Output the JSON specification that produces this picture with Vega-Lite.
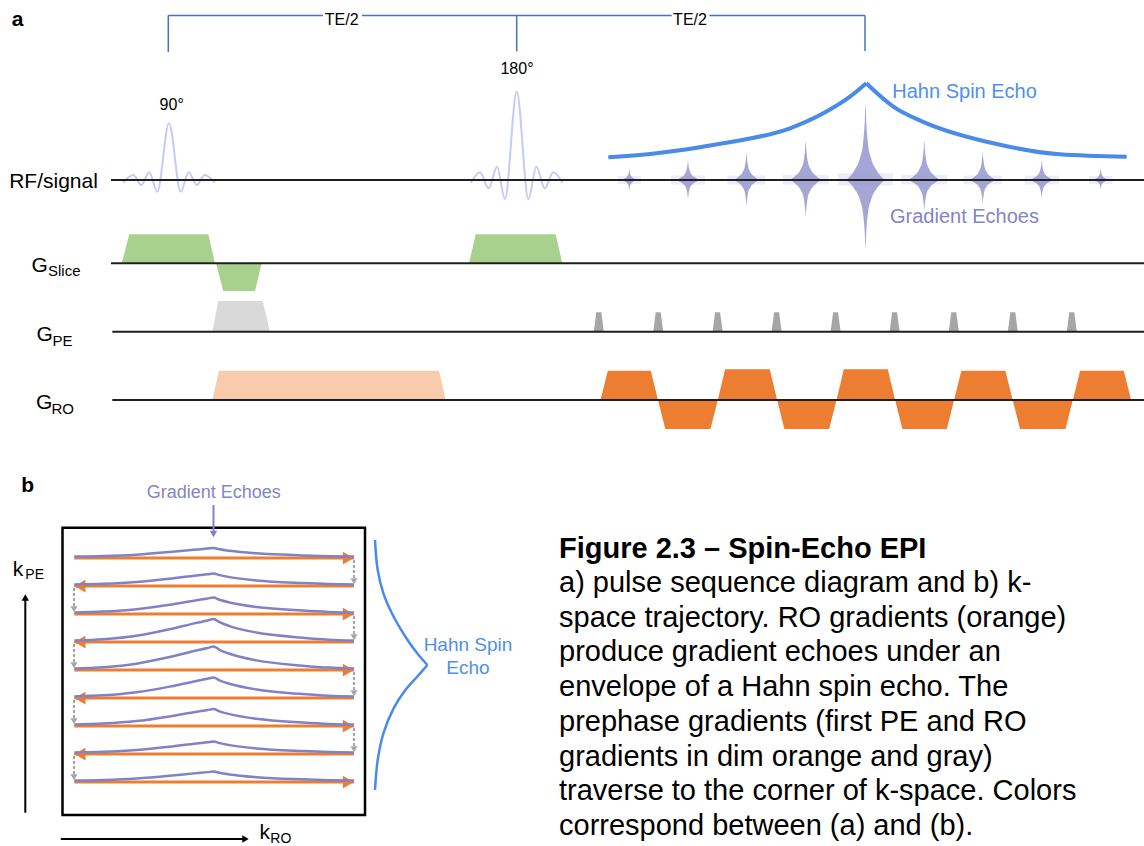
{
  "$schema": "https://vega.github.io/schema/vega-lite/v6.json",
  "width": 1144,
  "height": 846,
  "autosize": "none",
  "padding": 0,
  "background": "white",
  "config": {"view": {"stroke": null}, "text": {"font": "Liberation Sans", "baseline": "middle"}},
  "encoding": {
    "x": {"field": "x", "type": "quantitative", "scale": {"domain": [0, 1144], "nice": false, "zero": false}, "axis": null},
    "y": {"field": "y", "type": "quantitative", "scale": {"domain": [0, 846], "nice": false, "zero": false, "reverse": true}, "axis": null}
  },
  "datasets": {
    "haze": [
      {"x": 617.8, "x2": 640.8, "y": 176, "y2": 184},
      {"x": 670.8, "x2": 705.3, "y": 175.5, "y2": 184.5},
      {"x": 727.5, "x2": 765.5, "y": 175.5, "y2": 184.5},
      {"x": 782.7, "x2": 828.7, "y": 175, "y2": 184.5},
      {"x": 838, "x2": 893, "y": 173, "y2": 185.5},
      {"x": 901.3, "x2": 947.3, "y": 175, "y2": 184.5},
      {"x": 963.7, "x2": 1001.7, "y": 175.5, "y2": 184.5},
      {"x": 1024.5, "x2": 1058.9, "y": 175.5, "y2": 184.5},
      {"x": 1089.2, "x2": 1112.2, "y": 176, "y2": 184}
    ],
    "slice": [
      {"id": "s1", "x": 121.7, "y": 263.3, "y2": 263.3}, {"id": "s1", "x": 129.3, "y": 234.3, "y2": 263.3}, {"id": "s1", "x": 208.3, "y": 234.3, "y2": 263.3}, {"id": "s1", "x": 215, "y": 263.3, "y2": 263.3},
      {"id": "s2", "x": 216, "y": 263.3, "y2": 263.3}, {"id": "s2", "x": 223.3, "y": 263.3, "y2": 291}, {"id": "s2", "x": 255, "y": 263.3, "y2": 291}, {"id": "s2", "x": 261.7, "y": 263.3, "y2": 263.3},
      {"id": "s3", "x": 469, "y": 263.3, "y2": 263.3}, {"id": "s3", "x": 475.7, "y": 234.3, "y2": 263.3}, {"id": "s3", "x": 555.7, "y": 234.3, "y2": 263.3}, {"id": "s3", "x": 562.3, "y": 263.3, "y2": 263.3}
    ],
    "pePrephase": [
      {"id": "p", "x": 212.3, "y": 331.7, "y2": 331.7}, {"id": "p", "x": 218.3, "y": 301, "y2": 331.7}, {"id": "p", "x": 262.7, "y": 301, "y2": 331.7}, {"id": "p", "x": 270, "y": 331.7, "y2": 331.7}
    ],
    "roPrephase": [
      {"id": "r", "x": 212.3, "y": 400, "y2": 400}, {"id": "r", "x": 219, "y": 370.7, "y2": 400}, {"id": "r", "x": 439, "y": 370.7, "y2": 400}, {"id": "r", "x": 445.7, "y": 400, "y2": 400}
    ],
    "roLobes": [
      {"id": 1, "x": 600.5, "y": 400, "y2": 400}, {"id": 1, "x": 607.8, "y": 370.7, "y2": 400}, {"id": 1, "x": 650.8, "y": 370.7, "y2": 400}, {"id": 1, "x": 658, "y": 400, "y2": 400},
      {"id": 2, "x": 658, "y": 400, "y2": 400}, {"id": 2, "x": 665.3, "y": 400, "y2": 429}, {"id": 2, "x": 710.5, "y": 400, "y2": 429}, {"id": 2, "x": 717.8, "y": 400, "y2": 400},
      {"id": 3, "x": 717.8, "y": 400, "y2": 400}, {"id": 3, "x": 725.1, "y": 369.3, "y2": 400}, {"id": 3, "x": 769.8, "y": 369.3, "y2": 400}, {"id": 3, "x": 777.1, "y": 400, "y2": 400},
      {"id": 4, "x": 777.1, "y": 400, "y2": 400}, {"id": 4, "x": 784.4, "y": 400, "y2": 429}, {"id": 4, "x": 829.2, "y": 400, "y2": 429}, {"id": 4, "x": 836.5, "y": 400, "y2": 400},
      {"id": 5, "x": 836.5, "y": 400, "y2": 400}, {"id": 5, "x": 843.8, "y": 369.3, "y2": 400}, {"id": 5, "x": 887.8, "y": 369.3, "y2": 400}, {"id": 5, "x": 895.1, "y": 400, "y2": 400},
      {"id": 6, "x": 895.1, "y": 400, "y2": 400}, {"id": 6, "x": 902.4, "y": 400, "y2": 429}, {"id": 6, "x": 946.8, "y": 400, "y2": 429}, {"id": 6, "x": 954.1, "y": 400, "y2": 400},
      {"id": 7, "x": 954.1, "y": 400, "y2": 400}, {"id": 7, "x": 961.4, "y": 370.7, "y2": 400}, {"id": 7, "x": 1005.4, "y": 370.7, "y2": 400}, {"id": 7, "x": 1012.7, "y": 400, "y2": 400},
      {"id": 8, "x": 1012.7, "y": 400, "y2": 400}, {"id": 8, "x": 1020, "y": 400, "y2": 429}, {"id": 8, "x": 1065.5, "y": 400, "y2": 429}, {"id": 8, "x": 1072.8, "y": 400, "y2": 400},
      {"id": 9, "x": 1072.8, "y": 400, "y2": 400}, {"id": 9, "x": 1080.1, "y": 370.7, "y2": 400}, {"id": 9, "x": 1123.8, "y": 370.7, "y2": 400}, {"id": 9, "x": 1131.1, "y": 400, "y2": 400}
    ],
    "peBlips": [
      {"id": 1, "x": 593.8, "y": 331.7, "y2": 331.7}, {"id": 1, "x": 596.3, "y": 312.3, "y2": 331.7}, {"id": 1, "x": 601.3, "y": 312.3, "y2": 331.7}, {"id": 1, "x": 603.8, "y": 331.7, "y2": 331.7},
      {"id": 2, "x": 653.2, "y": 331.7, "y2": 331.7}, {"id": 2, "x": 655.7, "y": 312.3, "y2": 331.7}, {"id": 2, "x": 660.7, "y": 312.3, "y2": 331.7}, {"id": 2, "x": 663.2, "y": 331.7, "y2": 331.7},
      {"id": 3, "x": 712.6, "y": 331.7, "y2": 331.7}, {"id": 3, "x": 715.1, "y": 312.3, "y2": 331.7}, {"id": 3, "x": 720.1, "y": 312.3, "y2": 331.7}, {"id": 3, "x": 722.6, "y": 331.7, "y2": 331.7},
      {"id": 4, "x": 771.6, "y": 331.7, "y2": 331.7}, {"id": 4, "x": 774.1, "y": 312.3, "y2": 331.7}, {"id": 4, "x": 779.1, "y": 312.3, "y2": 331.7}, {"id": 4, "x": 781.6, "y": 331.7, "y2": 331.7},
      {"id": 5, "x": 830.6, "y": 331.7, "y2": 331.7}, {"id": 5, "x": 833.1, "y": 312.3, "y2": 331.7}, {"id": 5, "x": 838.1, "y": 312.3, "y2": 331.7}, {"id": 5, "x": 840.6, "y": 331.7, "y2": 331.7},
      {"id": 6, "x": 889.6, "y": 331.7, "y2": 331.7}, {"id": 6, "x": 892.1, "y": 312.3, "y2": 331.7}, {"id": 6, "x": 897.1, "y": 312.3, "y2": 331.7}, {"id": 6, "x": 899.6, "y": 331.7, "y2": 331.7},
      {"id": 7, "x": 948.8, "y": 331.7, "y2": 331.7}, {"id": 7, "x": 951.3, "y": 312.3, "y2": 331.7}, {"id": 7, "x": 956.3, "y": 312.3, "y2": 331.7}, {"id": 7, "x": 958.8, "y": 331.7, "y2": 331.7},
      {"id": 8, "x": 1007.8, "y": 331.7, "y2": 331.7}, {"id": 8, "x": 1010.3, "y": 312.3, "y2": 331.7}, {"id": 8, "x": 1015.3, "y": 312.3, "y2": 331.7}, {"id": 8, "x": 1017.8, "y": 331.7, "y2": 331.7},
      {"id": 9, "x": 1066.8, "y": 331.7, "y2": 331.7}, {"id": 9, "x": 1069.3, "y": 312.3, "y2": 331.7}, {"id": 9, "x": 1074.3, "y": 312.3, "y2": 331.7}, {"id": 9, "x": 1076.8, "y": 331.7, "y2": 331.7}
    ],
    "baselines": [
      {"x": 111, "x2": 1144, "y": 180, "y2": 180},
      {"x": 111, "x2": 1144, "y": 263.3, "y2": 263.3},
      {"x": 112.3, "x2": 1144, "y": 331.7, "y2": 331.7},
      {"x": 112.3, "x2": 1144, "y": 400, "y2": 400}
    ],
    "teBracket": [
      {"x": 168.3, "x2": 323, "y": 15.5, "y2": 15.5},
      {"x": 362, "x2": 671.7, "y": 15.5, "y2": 15.5},
      {"x": 709.3, "x2": 865, "y": 15.5, "y2": 15.5},
      {"x": 168.3, "x2": 168.3, "y": 15.5, "y2": 52},
      {"x": 516.7, "x2": 516.7, "y": 15.5, "y2": 51.5},
      {"x": 865, "x2": 865, "y": 15.5, "y2": 51}
    ],
    "rfPulses": [
      {"id": "p90", "x": 123, "y": 182.5}, {"id": "p90", "x": 133.3, "y": 175}, {"id": "p90", "x": 141.3, "y": 185}, {"id": "p90", "x": 149.3, "y": 172.3}, {"id": "p90", "x": 157.3, "y": 191.7}, {"id": "p90", "x": 169, "y": 123.3}, {"id": "p90", "x": 180.7, "y": 191.7}, {"id": "p90", "x": 188.7, "y": 172.3}, {"id": "p90", "x": 196.7, "y": 185}, {"id": "p90", "x": 204.7, "y": 175}, {"id": "p90", "x": 215, "y": 182.5},
      {"id": "p180", "x": 471, "y": 182.7}, {"id": "p180", "x": 480, "y": 172.3}, {"id": "p180", "x": 488.7, "y": 188.3}, {"id": "p180", "x": 497, "y": 166.7}, {"id": "p180", "x": 505, "y": 199}, {"id": "p180", "x": 516.7, "y": 91.7}, {"id": "p180", "x": 528.4, "y": 199}, {"id": "p180", "x": 536.4, "y": 166.7}, {"id": "p180", "x": 544.7, "y": 188.3}, {"id": "p180", "x": 553.4, "y": 172.3}, {"id": "p180", "x": 562.4, "y": 182.7}
    ],
    "gradientEchoes": [
      {"id": 1, "x": 621.3, "y": 180, "y2": 180}, {"id": 1, "x": 624.5, "y": 178.56, "y2": 181.28}, {"id": 1, "x": 626.9, "y": 176.64, "y2": 183}, {"id": 1, "x": 628.34, "y": 174, "y2": 185.35}, {"id": 1, "x": 629.02, "y": 170.4, "y2": 188.56}, {"id": 1, "x": 629.3, "y": 168, "y2": 190.7}, {"id": 1, "x": 629.58, "y": 170.4, "y2": 188.56}, {"id": 1, "x": 630.26, "y": 174, "y2": 185.35}, {"id": 1, "x": 631.7, "y": 176.64, "y2": 183}, {"id": 1, "x": 634.1, "y": 178.56, "y2": 181.28}, {"id": 1, "x": 637.3, "y": 180, "y2": 180},
      {"id": 2, "x": 676, "y": 180, "y2": 180}, {"id": 2, "x": 680.8, "y": 177.6, "y2": 182.28}, {"id": 2, "x": 684.4, "y": 174.4, "y2": 185.32}, {"id": 2, "x": 686.56, "y": 170, "y2": 189.5}, {"id": 2, "x": 687.6, "y": 164, "y2": 195.2}, {"id": 2, "x": 688, "y": 160, "y2": 199}, {"id": 2, "x": 688.4, "y": 164, "y2": 195.2}, {"id": 2, "x": 689.44, "y": 170, "y2": 189.5}, {"id": 2, "x": 691.6, "y": 174.4, "y2": 185.32}, {"id": 2, "x": 695.2, "y": 177.6, "y2": 182.28}, {"id": 2, "x": 700, "y": 180, "y2": 180},
      {"id": 3, "x": 733.3, "y": 180, "y2": 180}, {"id": 3, "x": 738.58, "y": 176.68, "y2": 183.06}, {"id": 3, "x": 742.54, "y": 172.24, "y2": 187.14}, {"id": 3, "x": 744.92, "y": 166.15, "y2": 192.75}, {"id": 3, "x": 746.02, "y": 157.84, "y2": 200.4}, {"id": 3, "x": 746.5, "y": 152.3, "y2": 205.5}, {"id": 3, "x": 746.98, "y": 157.84, "y2": 200.4}, {"id": 3, "x": 748.08, "y": 166.15, "y2": 192.75}, {"id": 3, "x": 750.46, "y": 172.24, "y2": 187.14}, {"id": 3, "x": 754.42, "y": 176.68, "y2": 183.06}, {"id": 3, "x": 759.7, "y": 180, "y2": 180},
      {"id": 4, "x": 789.7, "y": 180, "y2": 180}, {"id": 4, "x": 796.1, "y": 175.32, "y2": 184.38}, {"id": 4, "x": 800.9, "y": 169.08, "y2": 190.22}, {"id": 4, "x": 803.78, "y": 160.5, "y2": 198.25}, {"id": 4, "x": 805.14, "y": 148.8, "y2": 209.2}, {"id": 4, "x": 805.7, "y": 141, "y2": 216.5}, {"id": 4, "x": 806.26, "y": 148.8, "y2": 209.2}, {"id": 4, "x": 807.62, "y": 160.5, "y2": 198.25}, {"id": 4, "x": 810.5, "y": 169.08, "y2": 190.22}, {"id": 4, "x": 815.3, "y": 175.32, "y2": 184.38}, {"id": 4, "x": 821.7, "y": 180, "y2": 180},
      {"id": 5, "x": 846.3, "y": 180, "y2": 180}, {"id": 5, "x": 853.98, "y": 170.88, "y2": 188.28}, {"id": 5, "x": 859.74, "y": 158.72, "y2": 199.32}, {"id": 5, "x": 863.2, "y": 142, "y2": 214.5}, {"id": 5, "x": 864.86, "y": 119.2, "y2": 235.2}, {"id": 5, "x": 865.5, "y": 104, "y2": 249}, {"id": 5, "x": 866.14, "y": 119.2, "y2": 235.2}, {"id": 5, "x": 867.8, "y": 142, "y2": 214.5}, {"id": 5, "x": 871.26, "y": 158.72, "y2": 199.32}, {"id": 5, "x": 877.02, "y": 170.88, "y2": 188.28}, {"id": 5, "x": 884.7, "y": 180, "y2": 180},
      {"id": 6, "x": 908.3, "y": 180, "y2": 180}, {"id": 6, "x": 914.7, "y": 175.32, "y2": 183.6}, {"id": 6, "x": 919.5, "y": 169.08, "y2": 188.4}, {"id": 6, "x": 922.38, "y": 160.5, "y2": 195}, {"id": 6, "x": 923.74, "y": 148.8, "y2": 204}, {"id": 6, "x": 924.3, "y": 141, "y2": 210}, {"id": 6, "x": 924.86, "y": 148.8, "y2": 204}, {"id": 6, "x": 926.22, "y": 160.5, "y2": 195}, {"id": 6, "x": 929.1, "y": 169.08, "y2": 188.4}, {"id": 6, "x": 933.9, "y": 175.32, "y2": 183.6}, {"id": 6, "x": 940.3, "y": 180, "y2": 180},
      {"id": 7, "x": 969.5, "y": 180, "y2": 180}, {"id": 7, "x": 974.78, "y": 176.58, "y2": 182.82}, {"id": 7, "x": 978.74, "y": 172.02, "y2": 186.58}, {"id": 7, "x": 981.12, "y": 165.75, "y2": 191.75}, {"id": 7, "x": 982.22, "y": 157.2, "y2": 198.8}, {"id": 7, "x": 982.7, "y": 151.5, "y2": 203.5}, {"id": 7, "x": 983.18, "y": 157.2, "y2": 198.8}, {"id": 7, "x": 984.28, "y": 165.75, "y2": 191.75}, {"id": 7, "x": 986.66, "y": 172.02, "y2": 186.58}, {"id": 7, "x": 990.62, "y": 176.58, "y2": 182.82}, {"id": 7, "x": 995.9, "y": 180, "y2": 180},
      {"id": 8, "x": 1029.7, "y": 180, "y2": 180}, {"id": 8, "x": 1034.5, "y": 177.6, "y2": 182.16}, {"id": 8, "x": 1038.1, "y": 174.4, "y2": 185.04}, {"id": 8, "x": 1040.26, "y": 170, "y2": 189}, {"id": 8, "x": 1041.3, "y": 164, "y2": 194.4}, {"id": 8, "x": 1041.7, "y": 160, "y2": 198}, {"id": 8, "x": 1042.1, "y": 164, "y2": 194.4}, {"id": 8, "x": 1043.14, "y": 170, "y2": 189}, {"id": 8, "x": 1045.3, "y": 174.4, "y2": 185.04}, {"id": 8, "x": 1048.9, "y": 177.6, "y2": 182.16}, {"id": 8, "x": 1053.7, "y": 180, "y2": 180},
      {"id": 9, "x": 1092.7, "y": 180, "y2": 180}, {"id": 9, "x": 1095.9, "y": 178.56, "y2": 181.14}, {"id": 9, "x": 1098.3, "y": 176.64, "y2": 182.66}, {"id": 9, "x": 1099.74, "y": 174, "y2": 184.75}, {"id": 9, "x": 1100.42, "y": 170.4, "y2": 187.6}, {"id": 9, "x": 1100.7, "y": 168, "y2": 189.5}, {"id": 9, "x": 1100.98, "y": 170.4, "y2": 187.6}, {"id": 9, "x": 1101.66, "y": 174, "y2": 184.75}, {"id": 9, "x": 1103.1, "y": 176.64, "y2": 182.66}, {"id": 9, "x": 1105.5, "y": 178.56, "y2": 181.14}, {"id": 9, "x": 1108.7, "y": 180, "y2": 180}
    ],
    "hahnEnvelope": [
      {"id": "rise", "x": 608.3, "y": 157.3}, {"id": "rise", "x": 656.7, "y": 153.3}, {"id": "rise", "x": 723.3, "y": 143.3}, {"id": "rise", "x": 790, "y": 128.3}, {"id": "rise", "x": 823.3, "y": 113.3}, {"id": "rise", "x": 850, "y": 96.7}, {"id": "rise", "x": 866.3, "y": 83.3},
      {"id": "decay", "x": 866.3, "y": 83.3}, {"id": "decay", "x": 893.3, "y": 106.7}, {"id": "decay", "x": 926.7, "y": 123.3}, {"id": "decay", "x": 993.3, "y": 143.3}, {"id": "decay", "x": 1060, "y": 154.3}, {"id": "decay", "x": 1126.7, "y": 156.7}
    ],
    "kBox": [{"x": 62.5, "x2": 365, "y": 527.7, "y2": 815}],
    "kReadout": [
      {"x": 74.3, "x2": 354, "y": 558.1, "y2": 558.1},
      {"x": 74.3, "x2": 354, "y": 586.1, "y2": 586.1},
      {"x": 74.3, "x2": 354, "y": 614.1, "y2": 614.1},
      {"x": 74.3, "x2": 354, "y": 642.1, "y2": 642.1},
      {"x": 74.3, "x2": 354, "y": 670.1, "y2": 670.1},
      {"x": 74.3, "x2": 354, "y": 698.1, "y2": 698.1},
      {"x": 74.3, "x2": 354, "y": 726.1, "y2": 726.1},
      {"x": 74.3, "x2": 354, "y": 754.1, "y2": 754.1},
      {"x": 74.3, "x2": 354, "y": 782.1, "y2": 782.1}
    ],
    "kReadoutHeads": [
      {"x": 348.4, "y": 558.1, "dir": "right"},
      {"x": 79.9, "y": 586.1, "dir": "left"},
      {"x": 348.4, "y": 614.1, "dir": "right"},
      {"x": 79.9, "y": 642.1, "dir": "left"},
      {"x": 348.4, "y": 670.1, "dir": "right"},
      {"x": 79.9, "y": 698.1, "dir": "left"},
      {"x": 348.4, "y": 726.1, "dir": "right"},
      {"x": 79.9, "y": 754.1, "dir": "left"},
      {"x": 348.4, "y": 782.1, "dir": "right"}
    ],
    "kBlips": [
      {"x": 354, "x2": 354, "y": 560, "y2": 578},
      {"x": 74, "x2": 74, "y": 588, "y2": 606},
      {"x": 354, "x2": 354, "y": 616, "y2": 634},
      {"x": 74, "x2": 74, "y": 644, "y2": 662},
      {"x": 354, "x2": 354, "y": 672, "y2": 690},
      {"x": 74, "x2": 74, "y": 700, "y2": 718},
      {"x": 354, "x2": 354, "y": 728, "y2": 746},
      {"x": 74, "x2": 74, "y": 756, "y2": 774}
    ],
    "kBlipHeads": [
      {"x": 354, "y": 581.3, "dir": "down"},
      {"x": 74, "y": 609.3, "dir": "down"},
      {"x": 354, "y": 637.3, "dir": "down"},
      {"x": 74, "y": 665.3, "dir": "down"},
      {"x": 354, "y": 693.3, "dir": "down"},
      {"x": 74, "y": 721.3, "dir": "down"},
      {"x": 354, "y": 749.3, "dir": "down"},
      {"x": 74, "y": 777.3, "dir": "down"}
    ],
    "kEchoes": [
      {"id": 0, "x": 74.3, "y": 556.5}, {"id": 0, "x": 103.5, "y": 555.99}, {"id": 0, "x": 136.5, "y": 554.63}, {"id": 0, "x": 169.5, "y": 552.08}, {"id": 0, "x": 196.5, "y": 549.53}, {"id": 0, "x": 207.5, "y": 548.6}, {"id": 0, "x": 213.5, "y": 548}, {"id": 0, "x": 219.5, "y": 549.28}, {"id": 0, "x": 229.5, "y": 550.8}, {"id": 0, "x": 256.5, "y": 553.36}, {"id": 0, "x": 302.5, "y": 555.4}, {"id": 0, "x": 328.5, "y": 556.16}, {"id": 0, "x": 354, "y": 556.5},
      {"id": 1, "x": 74.3, "y": 584.5}, {"id": 1, "x": 103.5, "y": 583.84}, {"id": 1, "x": 136.5, "y": 582.08}, {"id": 1, "x": 169.5, "y": 578.78}, {"id": 1, "x": 196.5, "y": 575.48}, {"id": 1, "x": 207.5, "y": 574.27}, {"id": 1, "x": 213.5, "y": 573.5}, {"id": 1, "x": 219.5, "y": 575.15}, {"id": 1, "x": 229.5, "y": 577.13}, {"id": 1, "x": 256.5, "y": 580.43}, {"id": 1, "x": 302.5, "y": 583.07}, {"id": 1, "x": 328.5, "y": 584.06}, {"id": 1, "x": 354, "y": 584.5},
      {"id": 2, "x": 74.3, "y": 612.5}, {"id": 2, "x": 103.5, "y": 611.6}, {"id": 2, "x": 136.5, "y": 609.2}, {"id": 2, "x": 169.5, "y": 604.7}, {"id": 2, "x": 196.5, "y": 600.2}, {"id": 2, "x": 207.5, "y": 598.55}, {"id": 2, "x": 213.5, "y": 597.5}, {"id": 2, "x": 219.5, "y": 599.75}, {"id": 2, "x": 229.5, "y": 602.45}, {"id": 2, "x": 256.5, "y": 606.95}, {"id": 2, "x": 302.5, "y": 610.55}, {"id": 2, "x": 328.5, "y": 611.9}, {"id": 2, "x": 354, "y": 612.5},
      {"id": 3, "x": 74.3, "y": 640.5}, {"id": 3, "x": 103.5, "y": 639.21}, {"id": 3, "x": 136.5, "y": 635.77}, {"id": 3, "x": 169.5, "y": 629.32}, {"id": 3, "x": 196.5, "y": 622.87}, {"id": 3, "x": 207.5, "y": 620.5}, {"id": 3, "x": 213.5, "y": 619}, {"id": 3, "x": 219.5, "y": 622.22}, {"id": 3, "x": 229.5, "y": 626.09}, {"id": 3, "x": 256.5, "y": 632.54}, {"id": 3, "x": 302.5, "y": 637.7}, {"id": 3, "x": 328.5, "y": 639.64}, {"id": 3, "x": 354, "y": 640.5},
      {"id": 4, "x": 74.3, "y": 668.5}, {"id": 4, "x": 103.5, "y": 667.18}, {"id": 4, "x": 136.5, "y": 663.66}, {"id": 4, "x": 169.5, "y": 657.06}, {"id": 4, "x": 196.5, "y": 650.46}, {"id": 4, "x": 207.5, "y": 648.04}, {"id": 4, "x": 213.5, "y": 646.5}, {"id": 4, "x": 219.5, "y": 649.8}, {"id": 4, "x": 229.5, "y": 653.76}, {"id": 4, "x": 256.5, "y": 660.36}, {"id": 4, "x": 302.5, "y": 665.64}, {"id": 4, "x": 328.5, "y": 667.62}, {"id": 4, "x": 354, "y": 668.5},
      {"id": 5, "x": 74.3, "y": 696.5}, {"id": 5, "x": 103.5, "y": 695.36}, {"id": 5, "x": 136.5, "y": 692.32}, {"id": 5, "x": 169.5, "y": 686.62}, {"id": 5, "x": 196.5, "y": 680.92}, {"id": 5, "x": 207.5, "y": 678.83}, {"id": 5, "x": 213.5, "y": 677.5}, {"id": 5, "x": 219.5, "y": 680.35}, {"id": 5, "x": 229.5, "y": 683.77}, {"id": 5, "x": 256.5, "y": 689.47}, {"id": 5, "x": 302.5, "y": 694.03}, {"id": 5, "x": 328.5, "y": 695.74}, {"id": 5, "x": 354, "y": 696.5},
      {"id": 6, "x": 74.3, "y": 724.5}, {"id": 6, "x": 103.5, "y": 723.57}, {"id": 6, "x": 136.5, "y": 721.09}, {"id": 6, "x": 169.5, "y": 716.44}, {"id": 6, "x": 196.5, "y": 711.79}, {"id": 6, "x": 207.5, "y": 710.08}, {"id": 6, "x": 213.5, "y": 709}, {"id": 6, "x": 219.5, "y": 711.32}, {"id": 6, "x": 229.5, "y": 714.11}, {"id": 6, "x": 256.5, "y": 718.76}, {"id": 6, "x": 302.5, "y": 722.48}, {"id": 6, "x": 328.5, "y": 723.88}, {"id": 6, "x": 354, "y": 724.5},
      {"id": 7, "x": 74.3, "y": 752.5}, {"id": 7, "x": 103.5, "y": 751.84}, {"id": 7, "x": 136.5, "y": 750.08}, {"id": 7, "x": 169.5, "y": 746.78}, {"id": 7, "x": 196.5, "y": 743.48}, {"id": 7, "x": 207.5, "y": 742.27}, {"id": 7, "x": 213.5, "y": 741.5}, {"id": 7, "x": 219.5, "y": 743.15}, {"id": 7, "x": 229.5, "y": 745.13}, {"id": 7, "x": 256.5, "y": 748.43}, {"id": 7, "x": 302.5, "y": 751.07}, {"id": 7, "x": 328.5, "y": 752.06}, {"id": 7, "x": 354, "y": 752.5},
      {"id": 8, "x": 74.3, "y": 780.5}, {"id": 8, "x": 103.5, "y": 779.96}, {"id": 8, "x": 136.5, "y": 778.52}, {"id": 8, "x": 169.5, "y": 775.82}, {"id": 8, "x": 196.5, "y": 773.12}, {"id": 8, "x": 207.5, "y": 772.13}, {"id": 8, "x": 213.5, "y": 771.5}, {"id": 8, "x": 219.5, "y": 772.85}, {"id": 8, "x": 229.5, "y": 774.47}, {"id": 8, "x": 256.5, "y": 777.17}, {"id": 8, "x": 302.5, "y": 779.33}, {"id": 8, "x": 328.5, "y": 780.14}, {"id": 8, "x": 354, "y": 780.5}
    ],
    "hahnBrace": [
      {"id": "upper", "i": 0, "x": 375, "y": 540}, {"id": "upper", "i": 1, "x": 377.7, "y": 570}, {"id": "upper", "i": 2, "x": 383.4, "y": 593.3}, {"id": "upper", "i": 3, "x": 391.9, "y": 613.3}, {"id": "upper", "i": 4, "x": 405.4, "y": 636.7}, {"id": "upper", "i": 5, "x": 417.2, "y": 653.3}, {"id": "upper", "i": 6, "x": 427.4, "y": 665},
      {"id": "lower", "i": 0, "x": 427.4, "y": 665}, {"id": "lower", "i": 1, "x": 417.2, "y": 676.7}, {"id": "lower", "i": 2, "x": 405.4, "y": 690}, {"id": "lower", "i": 3, "x": 393.6, "y": 708.3}, {"id": "lower", "i": 4, "x": 383.4, "y": 733.3}, {"id": "lower", "i": 5, "x": 377.7, "y": 760}, {"id": "lower", "i": 6, "x": 375, "y": 790}
    ],
    "kAxes": [
      {"x": 25.3, "x2": 25.3, "y": 812.7, "y2": 599},
      {"x": 60.8, "x2": 244, "y": 839, "y2": 839}
    ],
    "kAxisHeads": [
      {"x": 25.3, "y": 597.5, "dir": "up"},
      {"x": 245.5, "y": 839, "dir": "right"}
    ],
    "echoPointer": [{"x": 213.5, "x2": 213.5, "y": 505, "y2": 531}],
    "echoPointerHead": [{"x": 213.5, "y": 534, "dir": "down"}],
    "panelLetters": [
      {"x": 17.5, "y": 20, "text": "a"},
      {"x": 27.7, "y": 486, "text": "b"}
    ],
    "timing": [
      {"x": 341.7, "y": 20, "text": "TE/2"},
      {"x": 690, "y": 20, "text": "TE/2"},
      {"x": 171.7, "y": 105, "text": "90°"},
      {"x": 517, "y": 69, "text": "180°"}
    ],
    "channelNames": [
      {"x": 9.2, "y": 182, "text": "RF/signal"},
      {"x": 31.4, "y": 265.5, "text": "G"},
      {"x": 36.5, "y": 334.5, "text": "G"},
      {"x": 36, "y": 403, "text": "G"}
    ],
    "channelSubs": [
      {"x": 48, "y": 271, "text": "Slice"},
      {"x": 52.5, "y": 340.5, "text": "PE"},
      {"x": 51.5, "y": 408.5, "text": "RO"}
    ],
    "kNames": [
      {"x": 12.8, "y": 570, "text": "k"},
      {"x": 259.5, "y": 833, "text": "k"}
    ],
    "kSubs": [
      {"x": 25.3, "y": 575, "text": "PE"},
      {"x": 270.3, "y": 839, "text": "RO"}
    ],
    "hahnLabelA": [{"x": 892.3, "y": 92.3, "text": "Hahn Spin Echo"}],
    "echoLabelA": [{"x": 890, "y": 216.7, "text": "Gradient Echoes"}],
    "echoLabelB": [{"x": 213.7, "y": 493.3, "text": "Gradient Echoes"}],
    "hahnLabelB": [
      {"x": 468, "y": 645, "text": "Hahn Spin"},
      {"x": 468, "y": 668, "text": "Echo"}
    ],
    "captionTitle": [{"x": 559, "y": 549, "text": "Figure 2.3 – Spin-Echo EPI"}],
    "captionBody": [
      {"x": 559, "y": 583, "text": "a) pulse sequence diagram and b) k-"},
      {"x": 559, "y": 617.7, "text": "space trajectory. RO gradients (orange)"},
      {"x": 559, "y": 652.4, "text": "produce gradient echoes under an"},
      {"x": 559, "y": 687.1, "text": "envelope of a Hahn spin echo. The"},
      {"x": 559, "y": 721.8, "text": "prephase gradients (first PE and RO"},
      {"x": 559, "y": 756.5, "text": "gradients in dim orange and gray)"},
      {"x": 559, "y": 791.2, "text": "traverse to the corner of k-space. Colors"},
      {"x": 559, "y": 825.9, "text": "correspond between (a) and (b)."}
    ]
  },
  "layer": [
    {"data": {"name": "haze"}, "mark": {"type": "rect", "fill": "#dcdcf0", "opacity": 0.5}, "encoding": {"x2": {"field": "x2"}, "y2": {"field": "y2"}}},
    {"data": {"name": "slice"}, "mark": {"type": "area", "fill": "#a9d18e", "interpolate": "linear"}, "encoding": {"y2": {"field": "y2"}, "detail": {"field": "id"}}},
    {"data": {"name": "pePrephase"}, "mark": {"type": "area", "fill": "#d9d9d9", "interpolate": "linear"}, "encoding": {"y2": {"field": "y2"}, "detail": {"field": "id"}}},
    {"data": {"name": "roPrephase"}, "mark": {"type": "area", "fill": "#f8cbad", "interpolate": "linear"}, "encoding": {"y2": {"field": "y2"}, "detail": {"field": "id"}}},
    {"data": {"name": "roLobes"}, "mark": {"type": "area", "fill": "#ed7d31", "interpolate": "linear"}, "encoding": {"y2": {"field": "y2"}, "detail": {"field": "id"}}},
    {"data": {"name": "peBlips"}, "mark": {"type": "area", "fill": "#a6a6a6", "interpolate": "linear"}, "encoding": {"y2": {"field": "y2"}, "detail": {"field": "id"}}},
    {"data": {"name": "rfPulses"}, "mark": {"type": "line", "stroke": "#c5caf6", "strokeWidth": 2, "interpolate": "monotone"}, "encoding": {"detail": {"field": "id"}}},
    {"data": {"name": "gradientEchoes"}, "mark": {"type": "area", "fill": "#9597cf", "opacity": 0.85, "interpolate": "monotone"}, "encoding": {"y2": {"field": "y2"}, "detail": {"field": "id"}}},
    {"data": {"name": "baselines"}, "mark": {"type": "rule", "stroke": "#1f1f1f", "strokeWidth": 2}, "encoding": {"x2": {"field": "x2"}, "y2": {"field": "y2"}}},
    {"data": {"name": "hahnEnvelope"}, "mark": {"type": "line", "stroke": "#4a8ae8", "strokeWidth": 4, "interpolate": "monotone"}, "encoding": {"detail": {"field": "id"}}},
    {"data": {"name": "teBracket"}, "mark": {"type": "rule", "stroke": "#4472c4", "strokeWidth": 1.5}, "encoding": {"x2": {"field": "x2"}, "y2": {"field": "y2"}}},
    {"data": {"name": "kBox"}, "mark": {"type": "rect", "fill": null, "stroke": "#000000", "strokeWidth": 2.5}, "encoding": {"x2": {"field": "x2"}, "y2": {"field": "y2"}}},
    {"data": {"name": "kReadout"}, "mark": {"type": "rule", "stroke": "#ed7d31", "strokeWidth": 3}, "encoding": {"x2": {"field": "x2"}, "y2": {"field": "y2"}}},
    {"data": {"name": "kReadoutHeads"}, "mark": {"type": "point", "filled": true, "fill": "#ed7d31", "opacity": 1, "size": 165, "strokeWidth": 0}, "encoding": {"shape": {"field": "dir", "type": "nominal", "scale": {"domain": ["right", "left", "down", "up"], "range": ["triangle-right", "triangle-left", "triangle-down", "triangle-up"]}, "legend": null}}},
    {"data": {"name": "kEchoes"}, "mark": {"type": "line", "stroke": "#8082c8", "strokeWidth": 2.5, "interpolate": "monotone"}, "encoding": {"detail": {"field": "id"}}},
    {"data": {"name": "kBlips"}, "mark": {"type": "rule", "stroke": "#a6a6a6", "strokeWidth": 2, "strokeDash": [3, 2]}, "encoding": {"x2": {"field": "x2"}, "y2": {"field": "y2"}}},
    {"data": {"name": "kBlipHeads"}, "mark": {"type": "point", "filled": true, "fill": "#a6a6a6", "opacity": 1, "size": 50, "strokeWidth": 0}, "encoding": {"shape": {"field": "dir", "type": "nominal", "scale": {"domain": ["right", "left", "down", "up"], "range": ["triangle-right", "triangle-left", "triangle-down", "triangle-up"]}, "legend": null}}},
    {"data": {"name": "hahnBrace"}, "mark": {"type": "line", "stroke": "#4a8ae8", "strokeWidth": 2.5, "interpolate": "catmull-rom"}, "encoding": {"detail": {"field": "id"}, "order": {"field": "i"}}},
    {"data": {"name": "kAxes"}, "mark": {"type": "rule", "stroke": "#000000", "strokeWidth": 2}, "encoding": {"x2": {"field": "x2"}, "y2": {"field": "y2"}}},
    {"data": {"name": "kAxisHeads"}, "mark": {"type": "point", "filled": true, "fill": "#000000", "opacity": 1, "size": 55, "strokeWidth": 0}, "encoding": {"shape": {"field": "dir", "type": "nominal", "scale": {"domain": ["right", "left", "down", "up"], "range": ["triangle-right", "triangle-left", "triangle-down", "triangle-up"]}, "legend": null}}},
    {"data": {"name": "echoPointer"}, "mark": {"type": "rule", "stroke": "#8082c8", "strokeWidth": 2}, "encoding": {"x2": {"field": "x2"}, "y2": {"field": "y2"}}},
    {"data": {"name": "echoPointerHead"}, "mark": {"type": "point", "filled": true, "fill": "#8082c8", "opacity": 1, "size": 55, "strokeWidth": 0}, "encoding": {"shape": {"field": "dir", "type": "nominal", "scale": {"domain": ["right", "left", "down", "up"], "range": ["triangle-right", "triangle-left", "triangle-down", "triangle-up"]}, "legend": null}}},
    {"data": {"name": "panelLetters"}, "mark": {"type": "text", "fontSize": 21, "fontWeight": "bold", "align": "center", "color": "#000000"}, "encoding": {"text": {"field": "text"}}},
    {"data": {"name": "timing"}, "mark": {"type": "text", "fontSize": 16, "align": "center", "color": "#000000"}, "encoding": {"text": {"field": "text"}}},
    {"data": {"name": "channelNames"}, "mark": {"type": "text", "fontSize": 21, "align": "left", "color": "#000000"}, "encoding": {"text": {"field": "text"}}},
    {"data": {"name": "channelSubs"}, "mark": {"type": "text", "fontSize": 15, "align": "left", "color": "#000000"}, "encoding": {"text": {"field": "text"}}},
    {"data": {"name": "kNames"}, "mark": {"type": "text", "fontSize": 21, "align": "left", "color": "#000000"}, "encoding": {"text": {"field": "text"}}},
    {"data": {"name": "kSubs"}, "mark": {"type": "text", "fontSize": 14, "align": "left", "color": "#000000"}, "encoding": {"text": {"field": "text"}}},
    {"data": {"name": "hahnLabelA"}, "mark": {"type": "text", "fontSize": 20, "align": "left", "color": "#4f8ff0"}, "encoding": {"text": {"field": "text"}}},
    {"data": {"name": "echoLabelA"}, "mark": {"type": "text", "fontSize": 20, "align": "left", "color": "#8385c9"}, "encoding": {"text": {"field": "text"}}},
    {"data": {"name": "echoLabelB"}, "mark": {"type": "text", "fontSize": 18, "align": "center", "color": "#8385c9"}, "encoding": {"text": {"field": "text"}}},
    {"data": {"name": "hahnLabelB"}, "mark": {"type": "text", "fontSize": 19, "align": "center", "color": "#4f8ff0"}, "encoding": {"text": {"field": "text"}}},
    {"data": {"name": "captionTitle"}, "mark": {"type": "text", "fontSize": 29, "fontWeight": "bold", "align": "left", "color": "#000000"}, "encoding": {"text": {"field": "text"}}},
    {"data": {"name": "captionBody"}, "mark": {"type": "text", "fontSize": 29, "align": "left", "color": "#000000"}, "encoding": {"text": {"field": "text"}}}
  ]
}
